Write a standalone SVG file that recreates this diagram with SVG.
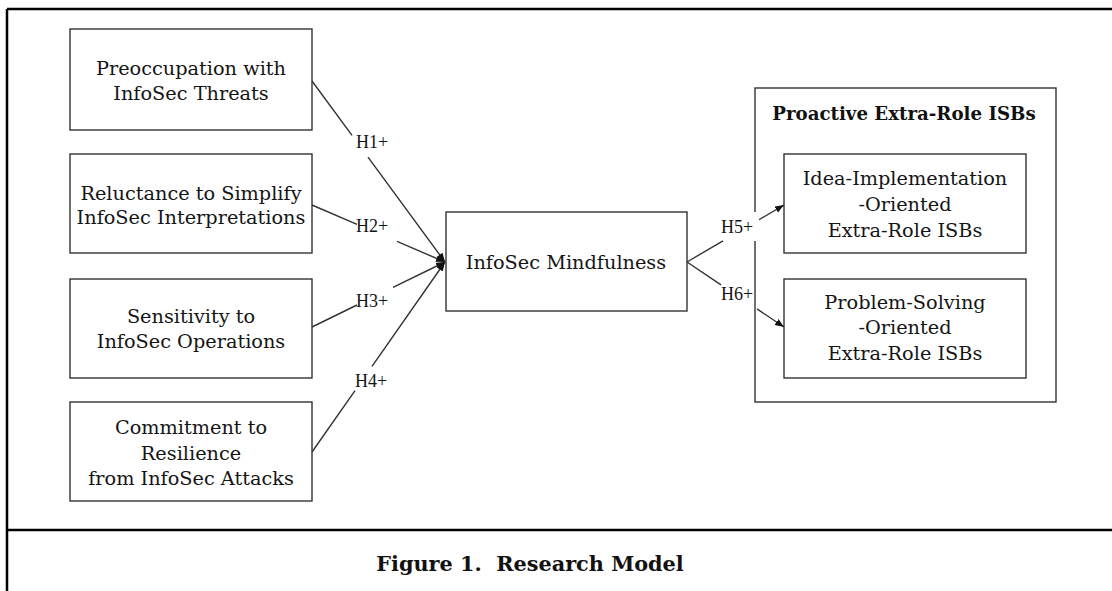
<svg xmlns="http://www.w3.org/2000/svg" width="1112" height="591" viewBox="0 0 1112 591">
<style>
.bg{fill:#fff}
.frame{stroke:#000;stroke-width:2.5;fill:none}
.box{fill:#fff;stroke:#333;stroke-width:1.4}
.grp{fill:none;stroke:#333;stroke-width:1.4}
.t{font-family:"DejaVu Serif","Liberation Serif",serif;font-size:19.3px;fill:#151515;text-anchor:middle}
.tb{font-family:"DejaVu Serif","Liberation Serif",serif;font-size:18.2px;font-weight:bold;fill:#111;text-anchor:middle}
.cap{font-family:"DejaVu Serif","Liberation Serif",serif;font-size:20.8px;font-weight:bold;fill:#111;text-anchor:middle;white-space:pre}
.lbl{font-family:"Liberation Serif",serif;font-size:18px;fill:#151515;text-anchor:middle}
.con{fill:none;stroke:#333;stroke-width:1.4}
</style>
<defs>
<marker id="ah" markerUnits="userSpaceOnUse" markerWidth="10" markerHeight="8" refX="9" refY="3.5" orient="auto">
<path d="M0,0 L9,3.5 L0,7 z" fill="#111"/>
</marker>
</defs>
<rect class="bg" x="0" y="0" width="1112" height="591"/>
<g id="frame">
<path class="frame" d="M7,9 L1112,9 M7,9 L7,591 M7,530 L1112,530"/>
</g>
<g id="n1"><rect class="box" x="70" y="29" width="242" height="101"/>
<text class="t" x="191" y="75">Preoccupation with</text>
<text class="t" x="191" y="100">InfoSec Threats</text></g>
<g id="n2"><rect class="box" x="70" y="154" width="242" height="99"/>
<text class="t" x="191" y="200">Reluctance to Simplify</text>
<text class="t" x="191" y="224">InfoSec Interpretations</text></g>
<g id="n3"><rect class="box" x="70" y="279" width="242" height="99"/>
<text class="t" x="191" y="323">Sensitivity to</text>
<text class="t" x="191" y="348">InfoSec Operations</text></g>
<g id="n4"><rect class="box" x="70" y="402" width="242" height="99"/>
<text class="t" x="191" y="434">Commitment to</text>
<text class="t" x="191" y="460">Resilience</text>
<text class="t" x="191" y="485">from InfoSec Attacks</text></g>
<g id="center"><rect class="box" x="446" y="212" width="241" height="99"/>
<text class="t" x="566" y="269">InfoSec Mindfulness</text></g>
<g id="group"><rect class="grp" x="755" y="88" width="301" height="314"/>
<text class="tb" x="904" y="120">Proactive Extra-Role ISBs</text></g>
<g id="n5"><rect class="box" x="784" y="154" width="242" height="99"/>
<text class="t" x="905" y="185">Idea-Implementation</text>
<text class="t" x="905" y="211">-Oriented</text>
<text class="t" x="905" y="237">Extra-Role ISBs</text></g>
<g id="n6"><rect class="box" x="784" y="279" width="242" height="99"/>
<text class="t" x="905" y="309">Problem-Solving</text>
<text class="t" x="905" y="334">-Oriented</text>
<text class="t" x="905" y="360">Extra-Role ISBs</text></g>
<g id="connectors">
<path class="con" marker-end="url(#ah)" d="M312,81 L352,135.4 M368,157.2 L445,262"/>
<path class="con" marker-end="url(#ah)" d="M312,205 L357,224.3 M397,241.4 L445,262"/>
<path class="con" marker-end="url(#ah)" d="M312,327 L357,305 M393,287.4 L445,262"/>
<path class="con" marker-end="url(#ah)" d="M312,452 L355,390.6 M372,366.3 L445,262"/>
<path class="con" marker-end="url(#ah)" d="M687,262 L723,240.8 M756,221.5 L784,205"/>
<path class="con" marker-end="url(#ah)" d="M687,262 L721,284.8 M757,308.9 L784,327"/>
<rect class="bg" x="753" y="212" width="6" height="29"/>
<text class="lbl" x="372" y="148">H1+</text>
<text class="lbl" x="372" y="232">H2+</text>
<text class="lbl" x="372" y="307">H3+</text>
<text class="lbl" x="371" y="387">H4+</text>
<text class="lbl" x="737" y="233">H5+</text>
<text class="lbl" x="737" y="300">H6+</text>
</g>
<text class="cap" x="530" y="571">Figure 1.  Research Model</text>
</svg>
